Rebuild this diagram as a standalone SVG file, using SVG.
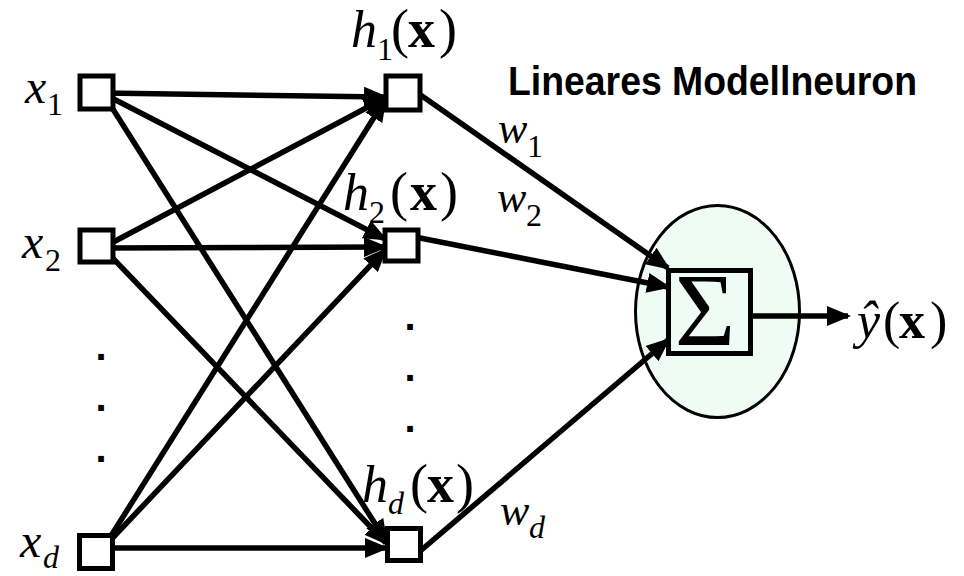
<svg xmlns="http://www.w3.org/2000/svg" width="964" height="576" viewBox="0 0 964 576">
  <style>
    .box { fill: #ffffff; stroke: #000000; stroke-width: 5; }
    .edge { stroke: #000000; stroke-width: 5.5; fill: none; }
    .math { font-family: "Liberation Serif", "Times New Roman", serif; font-style: normal; fill: #000000; }
    .it { font-style: italic; }
    .bf { font-weight: bold; }
    .dot { font-family: "Liberation Sans", Arial, sans-serif; font-weight: bold; font-size: 40px; text-anchor: middle; fill: #000000; }
    .title { font-family: "Liberation Sans", Arial, sans-serif; font-weight: bold; font-size: 40px; fill: #000000; }
  </style>
  <defs>
    <marker id="arrow" markerUnits="userSpaceOnUse" markerWidth="24" markerHeight="20" refX="21" refY="10" orient="auto">
      <path d="M0,0 L24,10 L0,20 z" fill="#000000"/>
    </marker>
  </defs>

  <rect width="964" height="576" fill="#ffffff"/>

  <!-- summation neuron (drawn first so the weight lines cross the ellipse) -->
  <g id="node-sum">
    <ellipse cx="717.5" cy="311.5" rx="82" ry="106" fill="#eefcf5" stroke="#000000" stroke-width="3"/>
    <rect x="668.5" y="270.5" width="82" height="83" fill="none" stroke="#000000" stroke-width="5"/>
    <text class="math" x="705" y="345" font-size="104" text-anchor="middle">Σ</text>
  </g>

  <g id="connectors">
    <!-- inputs to basis functions -->
    <line class="edge" x1="104" y1="93" x2="385" y2="97" marker-end="url(#arrow)"/>
    <line class="edge" x1="104" y1="94" x2="385" y2="239" marker-end="url(#arrow)"/>
    <line class="edge" x1="104" y1="95" x2="386" y2="541" marker-end="url(#arrow)"/>
    <line class="edge" x1="104" y1="247" x2="385" y2="98" marker-end="url(#arrow)"/>
    <line class="edge" x1="104" y1="248" x2="385" y2="247" marker-end="url(#arrow)"/>
    <line class="edge" x1="104" y1="249" x2="386" y2="543" marker-end="url(#arrow)"/>
    <line class="edge" x1="104" y1="547" x2="385" y2="100" marker-end="url(#arrow)"/>
    <line class="edge" x1="104" y1="547" x2="385" y2="250" marker-end="url(#arrow)"/>
    <line class="edge" x1="104" y1="548" x2="386" y2="548" marker-end="url(#arrow)"/>
    <!-- weighted sum -->
    <line class="edge" x1="412" y1="89" x2="668" y2="268" marker-end="url(#arrow)"/>
    <line class="edge" x1="410" y1="236" x2="668" y2="287" marker-end="url(#arrow)"/>
    <line class="edge" x1="412" y1="558" x2="668" y2="340" marker-end="url(#arrow)"/>
    <!-- output -->
    <line class="edge" x1="753" y1="316" x2="848" y2="316" marker-end="url(#arrow)"/>
  </g>

  <!-- inputs -->
  <g id="node-x1">
    <rect class="box" x="80" y="76" width="33" height="33"/>
    <text class="math" x="25" y="103" font-size="48"><tspan class="it">x</tspan><tspan x="47" y="115" font-size="32">1</tspan></text>
  </g>
  <g id="node-x2">
    <rect class="box" x="80" y="230" width="33" height="32"/>
    <text class="math" x="22" y="258" font-size="48"><tspan class="it">x</tspan><tspan x="45" y="271" font-size="32">2</tspan></text>
  </g>
  <g id="node-xd">
    <rect class="box" x="79.5" y="535.5" width="33" height="33"/>
    <text class="math" x="20" y="557" font-size="48"><tspan class="it">x</tspan><tspan class="it" x="43" y="568" font-size="32">d</tspan></text>
  </g>
  <g id="dots-inputs">
    <text class="dot" x="101" y="360">.</text>
    <text class="dot" x="101" y="411">.</text>
    <text class="dot" x="101" y="462">.</text>
  </g>

  <!-- basis functions -->
  <g id="node-h1">
    <rect class="box" x="386" y="76" width="34" height="34"/>
    <text class="math" x="351" y="47" font-size="54"><tspan class="it" font-size="52">h</tspan><tspan x="377" y="60" font-size="32">1</tspan><tspan x="391" y="47">(</tspan><tspan class="bf" x="408">x</tspan><tspan x="439">)</tspan></text>
  </g>
  <g id="node-h2">
    <rect class="box" x="385" y="230" width="33" height="31"/>
    <text class="math" x="343" y="210" font-size="54"><tspan class="it" font-size="52">h</tspan><tspan x="369" y="223" font-size="32">2</tspan><tspan x="390" y="210">(</tspan><tspan class="bf" x="410">x</tspan><tspan x="440">)</tspan></text>
  </g>
  <g id="node-hd">
    <rect class="box" x="387.5" y="528.5" width="33" height="32"/>
    <text class="math" x="362" y="502" font-size="54"><tspan class="it" font-size="52">h</tspan><tspan class="it" x="388" y="514" font-size="32">d</tspan><tspan x="410" y="502">(</tspan><tspan class="bf" x="427">x</tspan><tspan x="456">)</tspan></text>
  </g>
  <g id="dots-hidden">
    <text class="dot" x="410" y="330">.</text>
    <text class="dot" x="410" y="381">.</text>
    <text class="dot" x="410" y="432">.</text>
  </g>

  <!-- weight labels -->
  <g id="weights">
    <text class="math" x="498" y="143" font-size="44"><tspan class="it">w</tspan><tspan x="527" y="157" font-size="32">1</tspan></text>
    <text class="math" x="497" y="212" font-size="44"><tspan class="it">w</tspan><tspan x="526" y="226" font-size="32">2</tspan></text>
    <text class="math" x="500" y="525" font-size="44"><tspan class="it">w</tspan><tspan class="it" x="529" y="538" font-size="32">d</tspan></text>
  </g>

  <!-- output -->
  <g id="output">
    <text class="math" x="857" y="338" font-size="52"><tspan class="it">ŷ</tspan><tspan x="883">(</tspan><tspan class="bf" x="899">x</tspan><tspan x="930">)</tspan></text>
  </g>

  <text class="title" x="508" y="95" textLength="409" lengthAdjust="spacingAndGlyphs">Lineares Modellneuron</text>
</svg>
